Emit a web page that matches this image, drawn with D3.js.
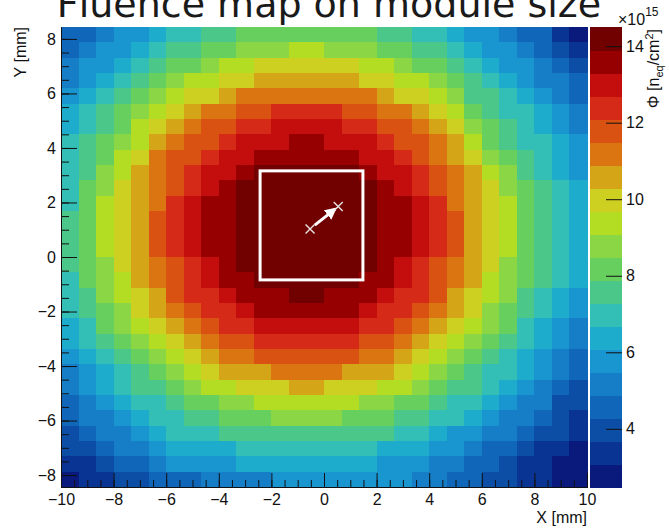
<!DOCTYPE html>
<html>
<head>
<meta charset="utf-8">
<script src="https://cdn.jsdelivr.net/npm/d3@7"></script>
<style>
  body { margin: 0; background: #fff; }
  svg text { font-family: "Liberation Sans", Arial, Helvetica, sans-serif; }
</style>
</head>
<body>
<div id="chart"></div>
<script>
// fluence per 2D bin, in units of 1e15 n_eq/cm2
// rows go from the top of the map (y = +8.4) down to the bottom (y = -8.4)
var fluence = [
  [4.6,4.6,5.2,5.8,5.8,6.4,7.0,7.0,7.6,7.6,8.2,8.2,8.2,8.2,8.2,8.2,8.2,8.2,7.6,7.6,7.0,7.0,6.4,5.8,5.8,5.2,4.6,4.6,3.4,2.8],
  [4.6,5.2,5.8,5.8,6.4,7.0,7.6,7.6,8.2,8.2,8.8,8.8,8.8,9.4,9.4,8.8,8.8,8.8,8.2,8.2,7.6,7.6,7.0,6.4,5.8,5.8,5.2,4.6,4.0,3.4],
  [5.2,5.8,5.8,6.4,7.0,7.6,8.2,8.2,8.8,9.4,9.4,10.0,10.0,10.0,10.0,10.0,10.0,9.4,9.4,8.8,8.2,8.2,7.6,7.0,6.4,5.8,5.8,5.2,4.6,4.0],
  [5.2,5.8,6.4,7.0,7.6,8.2,8.8,9.4,9.4,10.0,10.0,10.6,10.6,10.6,10.6,10.6,10.6,10.0,10.0,9.4,9.4,8.8,8.2,7.6,7.0,6.4,5.8,5.2,5.2,4.6],
  [5.8,6.4,7.0,7.6,8.2,8.8,9.4,10.0,10.0,10.6,11.2,11.2,11.2,11.2,11.2,11.2,11.2,11.2,10.6,10.0,10.0,9.4,8.8,7.6,7.6,7.0,6.4,5.8,5.2,4.6],
  [6.4,7.0,7.6,8.2,8.8,9.4,10.0,10.6,11.2,11.2,11.8,11.8,12.4,12.4,12.4,12.4,11.8,11.8,11.2,11.2,10.6,10.0,9.4,8.2,7.6,7.0,7.0,6.4,5.8,5.2],
  [6.4,7.0,7.6,8.2,9.4,10.0,10.6,11.2,11.8,11.8,12.4,12.4,13.0,13.0,13.0,13.0,12.4,12.4,11.8,11.8,11.2,10.6,10.0,8.8,8.2,7.6,7.0,6.4,5.8,5.2],
  [7.0,7.6,8.2,8.8,9.4,10.6,11.2,11.8,11.8,12.4,13.0,13.0,13.0,13.6,13.6,13.0,13.0,13.0,12.4,11.8,11.8,11.2,10.6,9.4,8.2,7.6,7.0,7.0,6.4,5.8],
  [7.0,7.6,8.2,9.4,10.0,11.2,11.8,11.8,12.4,13.0,13.0,13.6,13.6,13.6,13.6,13.6,13.6,13.0,13.0,12.4,11.8,11.2,10.6,10.0,8.8,8.2,7.6,7.0,6.4,5.8],
  [7.0,7.6,8.8,9.4,10.6,11.2,11.8,12.4,13.0,13.0,13.6,14.2,14.2,14.2,14.2,14.2,14.2,13.6,13.0,13.0,12.4,11.8,11.2,10.6,9.4,8.8,7.6,7.0,6.4,5.8],
  [7.0,8.2,8.8,10.0,10.6,11.2,11.8,12.4,13.0,13.6,14.2,14.2,14.2,14.2,14.2,14.2,14.2,14.2,13.6,13.0,12.4,11.8,11.2,10.6,10.0,8.8,8.2,7.6,7.0,6.4],
  [7.0,8.2,9.4,10.0,10.6,11.2,12.4,13.0,13.6,13.6,14.2,14.2,14.2,14.2,14.2,14.2,14.2,14.2,13.6,13.6,13.0,12.4,11.2,10.6,10.0,9.4,8.2,7.6,7.0,6.4],
  [7.6,8.2,9.4,10.0,10.6,11.8,12.4,13.0,13.6,13.6,14.2,14.2,14.2,14.2,14.2,14.2,14.2,14.2,13.6,13.6,13.0,12.4,11.8,10.6,10.0,9.4,8.2,7.6,7.0,6.4],
  [7.6,8.2,9.4,10.0,10.6,11.8,12.4,13.0,13.6,13.6,14.2,14.2,14.2,14.2,14.2,14.2,14.2,14.2,13.6,13.6,13.0,12.4,11.8,10.6,10.0,9.4,8.2,7.6,7.0,6.4],
  [7.6,8.2,9.4,10.0,10.6,11.8,12.4,13.0,13.6,13.6,14.2,14.2,14.2,14.2,14.2,14.2,14.2,14.2,13.6,13.6,13.0,12.4,11.8,10.6,10.0,9.4,8.2,7.6,7.0,6.4],
  [7.6,8.2,8.8,10.0,10.6,11.2,11.8,12.4,13.0,13.6,14.2,14.2,14.2,14.2,14.2,14.2,14.2,14.2,13.6,13.0,12.4,11.8,11.2,10.6,10.0,8.8,8.2,7.6,7.0,6.4],
  [7.0,8.2,8.8,9.4,10.6,11.2,11.8,12.4,13.0,13.6,13.6,14.2,14.2,14.2,14.2,14.2,14.2,13.6,13.6,13.0,12.4,11.8,11.2,10.6,9.4,8.8,8.2,7.6,7.0,6.4],
  [7.0,7.6,8.8,9.4,10.0,10.6,11.8,12.4,12.4,13.0,13.6,13.6,13.6,14.2,14.2,13.6,13.6,13.6,13.0,12.4,12.4,11.8,10.6,10.0,9.4,8.8,7.6,7.0,6.4,5.8],
  [7.0,7.6,8.2,8.8,10.0,10.6,11.2,11.8,12.4,12.4,13.0,13.6,13.6,13.6,13.6,13.6,13.6,13.0,12.4,12.4,11.8,11.2,10.6,10.0,8.8,8.2,7.6,7.0,6.4,5.8],
  [6.4,7.0,8.2,8.8,9.4,10.0,10.6,11.2,11.8,12.4,12.4,13.0,13.0,13.0,13.0,13.0,13.0,12.4,12.4,11.8,11.2,10.6,10.0,9.4,8.8,8.2,7.0,6.4,5.8,5.2],
  [6.4,7.0,7.6,8.2,8.8,9.4,10.0,10.6,11.2,11.8,11.8,12.4,12.4,12.4,12.4,12.4,12.4,11.8,11.8,11.2,10.6,10.0,9.4,8.8,8.2,7.6,7.0,6.4,5.8,5.2],
  [5.8,6.4,7.0,7.6,8.2,8.8,9.4,10.0,10.6,11.2,11.2,11.8,11.8,11.8,11.8,11.8,11.8,11.2,11.2,10.6,10.0,9.4,8.8,8.2,7.6,7.0,6.4,5.8,5.2,4.6],
  [5.2,5.8,6.4,7.0,7.6,8.2,8.8,9.4,10.0,10.6,10.6,10.6,11.2,11.2,11.2,11.2,10.6,10.6,10.6,10.0,9.4,8.8,8.2,7.6,7.0,7.0,6.4,5.8,5.2,4.6],
  [5.2,5.8,6.4,7.0,7.6,7.6,8.2,8.8,9.4,9.4,10.0,10.0,10.0,10.6,10.6,10.0,10.0,10.0,9.4,9.4,8.8,8.2,7.6,7.6,7.0,6.4,5.8,5.2,4.6,4.0],
  [4.6,5.2,5.8,6.4,7.0,7.0,7.6,8.2,8.2,8.8,8.8,9.4,9.4,9.4,9.4,9.4,9.4,8.8,8.8,8.2,8.2,7.6,7.0,7.0,6.4,5.8,5.2,5.2,4.0,4.0],
  [4.6,5.2,5.2,5.8,6.4,7.0,7.0,7.6,7.6,8.2,8.2,8.2,8.8,8.8,8.8,8.8,8.2,8.2,8.2,7.6,7.6,7.0,7.0,6.4,5.8,5.2,5.2,4.6,4.0,3.4],
  [4.0,4.6,5.2,5.2,5.8,6.4,7.0,7.0,7.0,7.6,7.6,7.6,7.6,7.6,7.6,7.6,7.6,7.6,7.6,7.0,7.0,6.4,5.8,5.8,5.2,5.2,4.6,4.0,4.0,3.4],
  [4.0,4.0,4.6,5.2,5.2,5.8,6.4,6.4,6.4,6.4,7.0,7.0,7.0,7.0,7.0,7.0,7.0,7.0,6.4,6.4,6.4,5.8,5.8,5.2,4.6,4.6,4.0,3.4,3.4,2.8],
  [3.4,3.4,4.0,4.6,4.6,5.2,5.8,5.8,5.8,5.8,6.4,6.4,6.4,6.4,6.4,6.4,6.4,6.4,5.8,5.8,5.8,5.2,5.2,4.6,4.6,4.0,3.4,3.4,2.8,2.8],
  [2.8,3.4,3.4,4.0,4.0,4.6,4.6,4.6,5.2,5.2,5.2,5.2,5.8,5.8,5.8,5.8,5.8,5.8,5.8,5.8,5.2,5.2,4.6,4.6,4.0,4.0,3.4,3.4,2.8,2.8]
];

var xRange = [-10, 10];
var yRange = [-8.4375, 8.4375];
var zRange = [2.48, 14.5];

var xTicks = [-10, -8, -6, -4, -2, 0, 2, 4, 6, 8, 10];
var yTicks = [-8, -6, -4, -2, 0, 2, 4, 6, 8];
var zTicks = [4, 6, 8, 10, 12, 14];

// 20 colour levels, low to high
var palette = ["#091a7c","#0a3493","#0c4ea6","#1066b8","#157ec6","#1995cf","#1eaccd","#33bfb6","#4cc78a","#66cf5d",
               "#8ad645","#b3dd22","#cdd020","#d4a517","#db7512","#d95212","#d52a17","#c40d0d","#960000","#710000"];

// module outline (x0, x1, y0, y1) and the two hit positions
var moduleX = [-2.43, 1.48];
var moduleY = [-0.84, 3.16];
var hitA = [-0.53, 1.03];
var hitB = [0.54, 1.85];

var width = 669, height = 530;

var svg = d3.select("#chart").append("svg")
  .attr("width", width)
  .attr("height", height);

var x = d3.scaleLinear().domain(xRange).range([61, 587]);
var y = d3.scaleLinear().domain(yRange).range([487, 27]);
var z = d3.scaleLinear().domain(zRange).range([487, 27]);
var color = d3.scaleQuantize().domain(zRange).range(palette);

var ny = fluence.length, nx = fluence[0].length;
var bw = (xRange[1] - xRange[0]) / nx;
var bh = (yRange[1] - yRange[0]) / ny;

var cells = [];
fluence.forEach(function(row, j) {
  row.forEach(function(v, i) { cells.push({i: i, j: j, v: v}); });
});

svg.append("g")
  .attr("shape-rendering", "crispEdges")
  .selectAll("rect")
  .data(cells)
  .join("rect")
  .attr("x", function(d) { return x(xRange[0] + d.i * bw); })
  .attr("y", function(d) { return y(yRange[1] - d.j * bh); })
  .attr("width", function(d) { return x(xRange[0] + (d.i + 1) * bw) - x(xRange[0] + d.i * bw) + 0.6; })
  .attr("height", function(d) { return y(yRange[1] - (d.j + 1) * bh) - y(yRange[1] - d.j * bh) + 0.6; })
  .attr("fill", function(d) { return color(d.v); });

// module box
svg.append("rect")
  .attr("x", x(moduleX[0]))
  .attr("y", y(moduleY[1]))
  .attr("width", x(moduleX[1]) - x(moduleX[0]))
  .attr("height", y(moduleY[0]) - y(moduleY[1]))
  .attr("fill", "none")
  .attr("stroke", "#fff")
  .attr("stroke-width", 3);

// arrow between the two hits
svg.append("defs").append("marker")
  .attr("id", "head")
  .attr("viewBox", "0 0 10 10")
  .attr("refX", 8).attr("refY", 5)
  .attr("markerWidth", 4).attr("markerHeight", 4)
  .attr("orient", "auto")
  .append("path")
  .attr("d", "M0,0L10,5L0,10z")
  .attr("fill", "#fff");

var ax = x(hitA[0]), ay = y(hitA[1]), bx = x(hitB[0]), by = y(hitB[1]);
var len = Math.hypot(bx - ax, by - ay);
var ux = (bx - ax) / len, uy = (by - ay) / len;
svg.append("line")
  .attr("x1", ax + ux * 6).attr("y1", ay + uy * 6)
  .attr("x2", bx - ux * 4).attr("y2", by - uy * 4)
  .attr("stroke", "#fff")
  .attr("stroke-width", 3)
  .attr("marker-end", "url(#head)");

svg.selectAll(".hit")
  .data([hitA, hitB])
  .join("path")
  .attr("class", "hit")
  .attr("transform", function(d) { return "translate(" + x(d[0]) + "," + y(d[1]) + ")"; })
  .attr("d", "M-4.5,-4.5L4.5,4.5M-4.5,4.5L4.5,-4.5")
  .attr("stroke", "#e6e6e6")
  .attr("stroke-width", 1.4);

// axes, ticks drawn inside the frame
function styleAxis(g) {
  g.selectAll("line").attr("stroke", "#111");
  g.selectAll("path").attr("stroke", "#111");
  g.selectAll("text").attr("fill", "#111").style("font-size", "16px");
}

var xMinor = d3.range(xRange[0], xRange[1] + 0.01, 0.5);
var yMinor = d3.range(-8, 8.01, 0.5);

svg.append("g")
  .attr("transform", "translate(0,487)")
  .call(d3.axisBottom(x).tickValues(xMinor).tickSize(-7).tickSizeOuter(0).tickFormat(""))
  .call(styleAxis);
svg.append("g")
  .attr("transform", "translate(0,487)")
  .call(d3.axisBottom(x).tickValues(xTicks).tickSize(-14).tickSizeOuter(0).tickPadding(7))
  .call(styleAxis);

svg.append("g")
  .attr("transform", "translate(61,0)")
  .call(d3.axisLeft(y).tickValues(yMinor).tickSize(-8).tickSizeOuter(0).tickFormat(""))
  .call(styleAxis);
svg.append("g")
  .attr("transform", "translate(61,0)")
  .call(d3.axisLeft(y).tickValues(yTicks).tickSize(-16).tickSizeOuter(0).tickPadding(5))
  .call(styleAxis);

svg.append("text")
  .attr("x", 587).attr("y", 523)
  .attr("text-anchor", "end")
  .style("font-size", "16px")
  .attr("fill", "#111")
  .text("X [mm]");

svg.append("text")
  .attr("transform", "translate(26,27) rotate(-90)")
  .attr("text-anchor", "end")
  .style("font-size", "16px")
  .attr("fill", "#111")
  .text("Y [mm]");

// colour bar
var step = (zRange[1] - zRange[0]) / palette.length;
svg.append("g")
  .attr("shape-rendering", "crispEdges")
  .selectAll("rect")
  .data(palette)
  .join("rect")
  .attr("x", 590)
  .attr("y", function(d, k) { return z(zRange[0] + (k + 1) * step); })
  .attr("width", 32)
  .attr("height", function(d, k) { return z(zRange[0] + k * step) - z(zRange[0] + (k + 1) * step) + 0.6; })
  .attr("fill", function(d) { return d; });

svg.append("g")
  .attr("transform", "translate(622,0)")
  .call(d3.axisRight(z).tickValues(zTicks).tickSize(-16).tickSizeOuter(0).tickPadding(4))
  .call(styleAxis)
  .call(function(g) { g.select(".domain").remove(); });

var expo = svg.append("text")
  .attr("x", 618).attr("y", 25)
  .style("font-size", "16px")
  .attr("fill", "#111");
expo.append("tspan").text("\u00d710");
expo.append("tspan").attr("dy", -9).style("font-size", "12px").text("15");

var ztitle = svg.append("text")
  .attr("transform", "translate(659,29) rotate(-90)")
  .attr("text-anchor", "end")
  .style("font-size", "16px")
  .attr("fill", "#111");
ztitle.append("tspan").text("\u03a6 [n");
ztitle.append("tspan").attr("dy", 4).style("font-size", "11px").text("eq");
ztitle.append("tspan").attr("dy", -4).text("/cm");
ztitle.append("tspan").attr("dy", -6).style("font-size", "11px").text("2");
ztitle.append("tspan").attr("dy", 6).text("]");

// title, cut by the top of the canvas as in the original
svg.append("text")
  .attr("x", 329).attr("y", 17)
  .attr("text-anchor", "middle")
  .style("font-family", "'DejaVu Sans', Verdana, sans-serif")
  .style("font-size", "38px")
  .attr("fill", "#1a1a1a")
  .text("Fluence map on module size");
</script>
</body>
</html>
